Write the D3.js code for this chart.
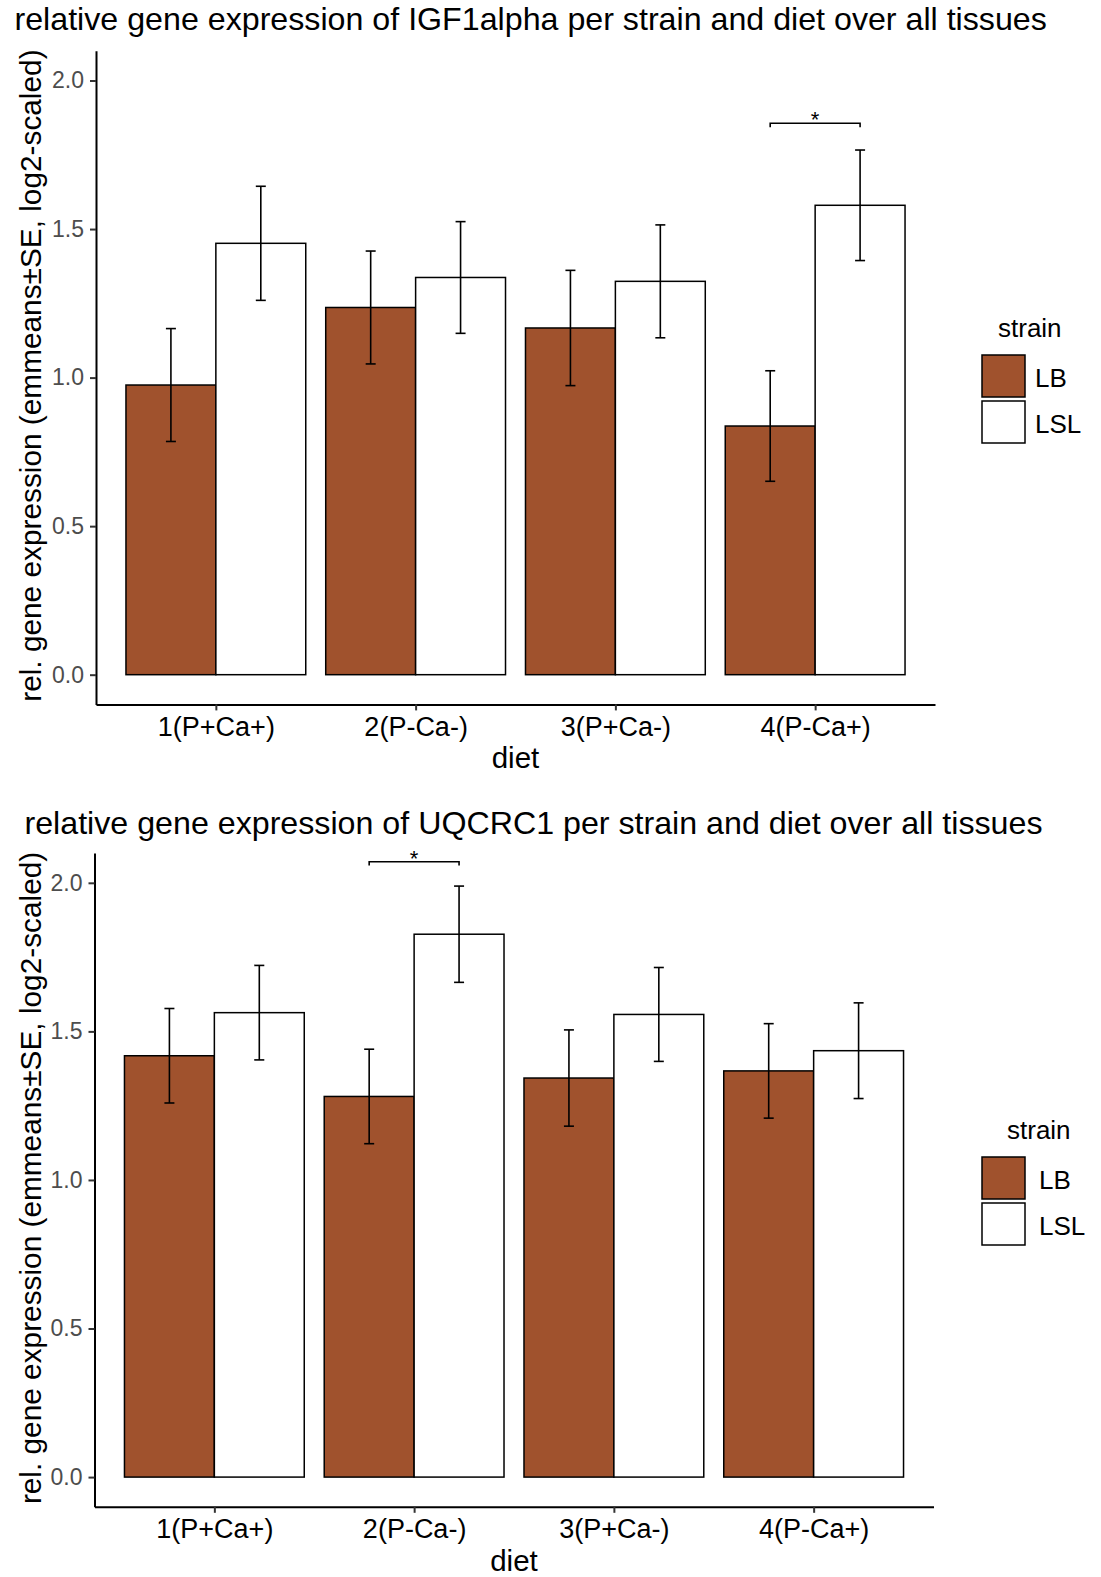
<!DOCTYPE html>
<html>
<head>
<meta charset="utf-8">
<script src="https://cdn.jsdelivr.net/npm/d3@7"></script>
<style>
  body { margin: 0; background: #fff; }
  svg text { font-family: "Liberation Sans", Arial, sans-serif; }
</style>
</head>
<body>
<div id="chart-container"></div>
<script>
const W = 1101, H = 1577;

// categories
const diets = ["1(P+Ca+)", "2(P-Ca-)", "3(P+Ca-)", "4(P-Ca+)"];
const strains = ["LB", "LSL"];
const strainColors = ["#A0522D", "#FFFFFF"];
const yTicks = [0, 0.5, 1, 1.5, 2];

// IGF1alpha: emmeans and SE
const igfLB = [0.975, 1.236, 1.167, 0.837];
const igfLBse = [0.19, 0.19, 0.194, 0.186];
const igfLSL = [1.452, 1.337, 1.324, 1.580];
const igfLSLse = [0.192, 0.188, 0.19, 0.186];
const igfSig = { diet: "4(P-Ca+)", y: 1.856, label: "*" };

// UQCRC1: emmeans and SE
const uqLB = [1.418, 1.281, 1.343, 1.367];
const uqLBse = [0.159, 0.159, 0.162, 0.159];
const uqLSL = [1.563, 1.827, 1.557, 1.435];
const uqLSLse = [0.159, 0.162, 0.158, 0.161];
const uqSig = { diet: "2(P-Ca-)", y: 2.071, label: "*" };

const svg = d3.select("#chart-container")
  .append("svg")
    .attr("width", W)
    .attr("height", H);

// one ggplot-like panel
function drawPanel(cfg) {
  const x = d3.scalePoint()
    .domain(diets)
    .range([cfg.left, cfg.right])
    .padding(0.6);
  const step = x.step();
  const barW = step * 0.45;

  const y = d3.scaleLinear()
    .domain([-0.1, 2.1])
    .range([cfg.bottom, cfg.top]);

  const g = svg.append("g");

  // title
  g.append("text")
    .attr("x", cfg.titleX)
    .attr("y", cfg.titleY)
    .attr("font-size", 32.2)
    .attr("fill", "#000")
    .text(cfg.title);

  // rows for bars
  const rows = [];
  diets.forEach((d, i) => {
    rows.push({ diet: d, s: 0, v: cfg.lb[i], se: cfg.lbse[i] });
    rows.push({ diet: d, s: 1, v: cfg.lsl[i], se: cfg.lslse[i] });
  });
  const cx = r => x(r.diet) + (r.s === 0 ? -barW / 2 : barW / 2);

  g.selectAll("rect.bar")
    .data(rows)
    .join("rect")
      .attr("class", "bar")
      .attr("x", r => cx(r) - barW / 2)
      .attr("width", barW)
      .attr("y", r => y(r.v))
      .attr("height", r => y(0) - y(r.v))
      .attr("fill", r => strainColors[r.s])
      .attr("stroke", "#000")
      .attr("stroke-width", 1.5);

  // error bars
  const capW = 5;
  const eb = g.selectAll("g.err")
    .data(rows)
    .join("g")
      .attr("class", "err")
      .attr("stroke", "#000")
      .attr("stroke-width", 1.6);
  eb.append("line")
    .attr("x1", cx).attr("x2", cx)
    .attr("y1", r => y(r.v + r.se)).attr("y2", r => y(r.v - r.se));
  eb.append("line")
    .attr("x1", r => cx(r) - capW).attr("x2", r => cx(r) + capW)
    .attr("y1", r => y(r.v + r.se)).attr("y2", r => y(r.v + r.se));
  eb.append("line")
    .attr("x1", r => cx(r) - capW).attr("x2", r => cx(r) + capW)
    .attr("y1", r => y(r.v - r.se)).attr("y2", r => y(r.v - r.se));

  // significance bracket
  const sx1 = x(cfg.sig.diet) - barW / 2, sx2 = x(cfg.sig.diet) + barW / 2;
  const tickDrop = 0.013;
  g.append("path")
    .attr("d", d3.line()([
      [sx1, y(cfg.sig.y - tickDrop)], [sx1, y(cfg.sig.y)],
      [sx2, y(cfg.sig.y)], [sx2, y(cfg.sig.y - tickDrop)]
    ]))
    .attr("fill", "none")
    .attr("stroke", "#000")
    .attr("stroke-width", 1.6);
  g.append("text")
    .attr("x", (sx1 + sx2) / 2)
    .attr("y", y(cfg.sig.y) + 4)
    .attr("text-anchor", "middle")
    .attr("font-size", 22)
    .text(cfg.sig.label);

  // y axis
  const yAxis = g.append("g")
    .attr("transform", `translate(${cfg.left},0)`)
    .call(d3.axisLeft(y).tickValues(yTicks).tickFormat(d3.format(".1f"))
      .tickSize(6).tickSizeOuter(0).tickPadding(6));
  // x axis
  const xAxis = g.append("g")
    .attr("transform", `translate(0,${cfg.bottom})`)
    .call(d3.axisBottom(x).tickSize(6).tickSizeOuter(0).tickPadding(4));

  [yAxis, xAxis].forEach(a => {
    a.attr("font-family", null);
    a.select(".domain").attr("stroke", "#000").attr("stroke-width", 2);
    a.selectAll(".tick line").attr("stroke", "#333").attr("stroke-width", 2);
  });
  yAxis.selectAll(".tick text").attr("font-size", 23).attr("fill", "#4D4D4D");
  xAxis.selectAll(".tick text").attr("font-size", 27).attr("fill", "#000")
    .attr("dy", null).attr("y", 31.5);

  // axis titles
  g.append("text")
    .attr("x", (cfg.left + cfg.right) / 2)
    .attr("y", cfg.bottom + 64)
    .attr("text-anchor", "middle")
    .attr("font-size", 29.5)
    .text("diet");
  g.append("text")
    .attr("transform", `translate(41,${(cfg.top + cfg.bottom) / 2 - 2}) rotate(-90)`)
    .attr("text-anchor", "middle")
    .attr("font-size", 29.8)
    .text("rel. gene expression (emmeans\u00B1SE, log2-scaled)");

  // legend
  const lg = g.append("g");
  lg.append("text")
    .attr("x", cfg.legTitleX)
    .attr("y", cfg.legY)
    .attr("font-size", 26)
    .text("strain");
  strains.forEach((s, i) => {
    const ky = cfg.legY + 18 + i * 46;
    lg.append("rect")
      .attr("x", 982).attr("y", ky)
      .attr("width", 43).attr("height", 42)
      .attr("fill", strainColors[i])
      .attr("stroke", "#000")
      .attr("stroke-width", 1.5);
    lg.append("text")
      .attr("x", cfg.legLabelX)
      .attr("y", ky + 23)
      .attr("dy", "0.35em")
      .attr("font-size", 26)
      .text(s);
  });
}

drawPanel({
  title: "relative gene expression of IGF1alpha per strain and diet over all tissues",
  titleX: 14.5, titleY: 30,
  left: 96, right: 935, top: 50.8, bottom: 704.4,
  lb: igfLB, lbse: igfLBse, lsl: igfLSL, lslse: igfLSLse, sig: igfSig,
  legY: 337, legTitleX: 998, legLabelX: 1035
});

drawPanel({
  title: "relative gene expression of UQCRC1 per strain and diet over all tissues",
  titleX: 24.5, titleY: 834,
  left: 94.5, right: 933.5, top: 853.1, bottom: 1506.8,
  lb: uqLB, lbse: uqLBse, lsl: uqLSL, lslse: uqLSLse, sig: uqSig,
  legY: 1139, legTitleX: 1007, legLabelX: 1039
});
</script>
</body>
</html>
